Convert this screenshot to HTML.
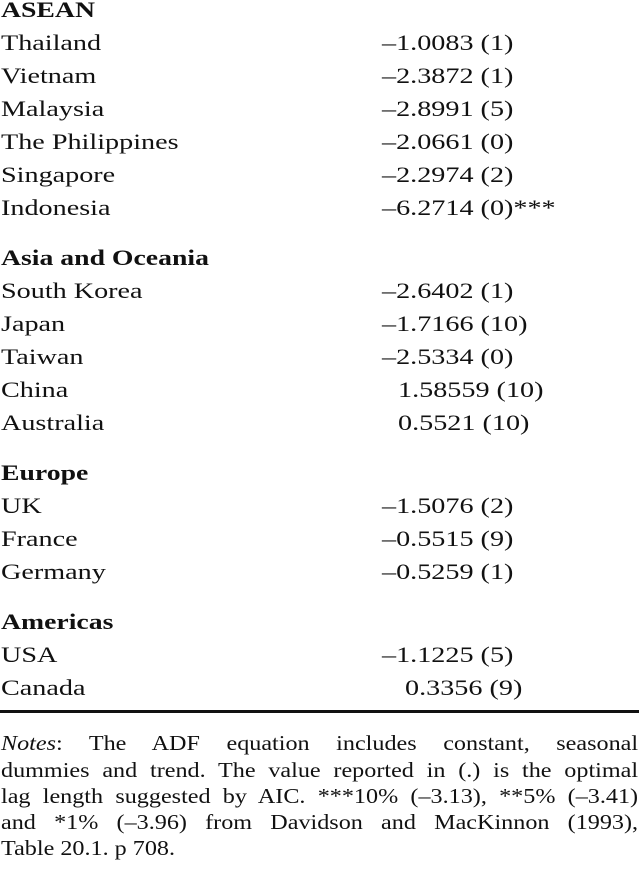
<!DOCTYPE html>
<html><head><meta charset="utf-8"><style>
body{margin:0;width:639px;height:876px;background:#fff;position:relative;overflow:hidden;font-family:"Liberation Serif",serif;color:#111;}
.r{position:absolute;height:26px;line-height:26px;font-size:22px;white-space:nowrap;transform:scaleX(1.28);transform-origin:0 0;}
.h{font-weight:bold;transform:scaleX(1.26);}
.n{position:absolute;left:1px;width:554px;height:26px;line-height:26px;font-size:21px;text-align:justify;text-align-last:justify;white-space:nowrap;transform:scaleX(1.15);transform-origin:0 0;}
</style></head><body>
<div class="r h" style="left:1px;top:-3px">ASEAN</div>
<div class="r" style="left:1px;top:30px">Thailand</div><div class="r" style="left:382px;top:30px">–1.0083 (1)</div>
<div class="r" style="left:1px;top:63px">Vietnam</div><div class="r" style="left:382px;top:63px">–2.3872 (1)</div>
<div class="r" style="left:1px;top:96px">Malaysia</div><div class="r" style="left:382px;top:96px">–2.8991 (5)</div>
<div class="r" style="left:1px;top:129px">The Philippines</div><div class="r" style="left:382px;top:129px">–2.0661 (0)</div>
<div class="r" style="left:1px;top:162px">Singapore</div><div class="r" style="left:382px;top:162px">–2.2974 (2)</div>
<div class="r" style="left:1px;top:195px">Indonesia</div><div class="r" style="left:382px;top:195px">–6.2714 (0)***</div>
<div class="r h" style="left:1px;top:245px">Asia and Oceania</div>
<div class="r" style="left:1px;top:278px">South Korea</div><div class="r" style="left:382px;top:278px">–2.6402 (1)</div>
<div class="r" style="left:1px;top:311px">Japan</div><div class="r" style="left:382px;top:311px">–1.7166 (10)</div>
<div class="r" style="left:1px;top:344px">Taiwan</div><div class="r" style="left:382px;top:344px">–2.5334 (0)</div>
<div class="r" style="left:1px;top:377px">China</div><div class="r" style="left:398px;top:377px">1.58559 (10)</div>
<div class="r" style="left:1px;top:410px">Australia</div><div class="r" style="left:398px;top:410px">0.5521 (10)</div>
<div class="r h" style="left:1px;top:460px">Europe</div>
<div class="r" style="left:1px;top:493px">UK</div><div class="r" style="left:382px;top:493px">–1.5076 (2)</div>
<div class="r" style="left:1px;top:526px">France</div><div class="r" style="left:382px;top:526px">–0.5515 (9)</div>
<div class="r" style="left:1px;top:559px">Germany</div><div class="r" style="left:382px;top:559px">–0.5259 (1)</div>
<div class="r h" style="left:1px;top:609px">Americas</div>
<div class="r" style="left:1px;top:642px">USA</div><div class="r" style="left:382px;top:642px">–1.1225 (5)</div>
<div class="r" style="left:1px;top:675px">Canada</div><div class="r" style="left:405px;top:675px">0.3356 (9)</div>
<div style="position:absolute;left:0;top:710px;width:639px;height:3px;background:#111"></div>
<div>
<div class="n" style="top:730px"><i>Notes</i>: The ADF equation includes constant, seasonal</div>
<div class="n" style="top:757px">dummies and trend. The value reported in (.) is the optimal</div>
<div class="n" style="top:783px">lag length suggested by AIC. ***10% (–3.13), **5% (–3.41)</div>
<div class="n" style="top:809px">and *1% (–3.96) from Davidson and MacKinnon (1993),</div>
<div class="n" style="top:835px;text-align:left;text-align-last:left">Table 20.1. p 708.</div>
</div>
</body></html>
